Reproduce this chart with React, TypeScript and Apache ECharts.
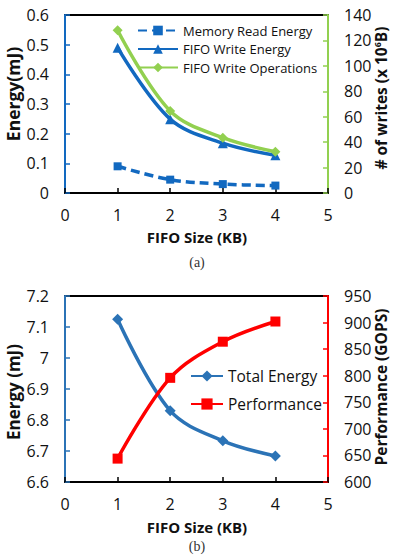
import React, { useEffect, useRef } from "react";
import * as echarts from "echarts";

const fifoSizes = [1, 2, 3, 4];
const memReadEnergy = [0.09, 0.045, 0.03, 0.025];
const fifoWriteEnergy = [0.49, 0.249, 0.168, 0.127];
const fifoWriteOps = [128, 64.5, 43.5, 32.5];
const totalEnergy = [7.125, 6.83, 6.733, 6.684];
const performance = [644, 796, 864, 902];

const BLUE_A = "#1269C0";
const GREEN = "#92D050";
const BLUE_B = "#2B73B6";
const RED = "#FF0000";
const FONT = "Open Sans";

const pairs = (ys: number[]) => fifoSizes.map((x, i) => [x, ys[i]]);

export default function App() {
  const ref = useRef<HTMLDivElement>(null);
  useEffect(() => {
    document.body.style.margin = "0";
    const chart = echarts.init(ref.current!, null, { renderer: "svg" });
    const label = { color: "#111", fontFamily: FONT, fontSize: 16 };
    const xAxisBase = (gridIndex: number) => ({
      type: "value" as const,
      gridIndex,
      min: 0,
      max: 5,
      interval: 1,
      axisLine: { lineStyle: { color: "#000", width: 2 } },
      axisTick: { inside: true, length: 5, lineStyle: { color: "#000", width: 1.5 } },
      axisLabel: { ...label, margin: 14 },
      splitLine: { show: false },
    });
    const yAxisBase = (gridIndex: number, pos: "left" | "right", color: string, min: number, max: number, interval: number) => ({
      type: "value" as const,
      gridIndex,
      position: pos,
      min,
      max,
      interval,
      axisLine: { show: true, onZero: false, lineStyle: { color, width: 2 } },
      axisTick: { show: true, inside: true, length: 5, lineStyle: { color, width: 1.5 } },
      axisLabel: { ...label, margin: 16 },
      splitLine: { show: false },
    });
    const lineSeries = (name: string, xi: number, yi: number, data: number[], color: string, symbol: string, symbolSize: number, dashed = false) => ({
      name,
      type: "line" as const,
      xAxisIndex: xi,
      yAxisIndex: yi,
      data: pairs(data),
      smooth: 0.35,
      symbol,
      symbolSize,
      showSymbol: true,
      lineStyle: { color, width: 3.5, type: dashed ? [9, 5] : "solid" },
      itemStyle: { color },
      z: 3,
    });
    const axisTitle = (text: string, x: number, y: number, rot: number, size: number, rich?: any) => ({
      type: "text",
      x,
      y,
      rotation: rot,
      style: {
        text,
        fill: "#111",
        fontFamily: FONT,
        fontWeight: "bold",
        fontSize: size,
        align: "center",
        verticalAlign: "middle",
        rich,
      },
    });
    chart.setOption({
      animation: false,
      grid: [
        { left: 65, top: 15, width: 263, height: 178, show: true, borderColor: "#000", borderWidth: 2 },
        { left: 65, top: 296, width: 263, height: 186, show: true, borderColor: "#000", borderWidth: 2 },
      ],
      xAxis: [xAxisBase(0), xAxisBase(1)],
      yAxis: [
        yAxisBase(0, "left", BLUE_A, 0, 0.6, 0.1),
        yAxisBase(0, "right", GREEN, 0, 140, 20),
        yAxisBase(1, "left", BLUE_B, 6.6, 7.2, 0.1),
        yAxisBase(1, "right", RED, 600, 950, 50),
      ],
      legend: [
        {
          data: ["Memory Read Energy", "FIFO Write Energy", "FIFO Write Operations"],
          orient: "vertical",
          left: 132,
          top: 19,
          itemWidth: 40,
          itemHeight: 12,
          itemGap: 5.5,
          textStyle: { fontFamily: FONT, fontSize: 13, color: "#111", lineHeight: 12 },
        },
        {
          data: ["Total Energy", "Performance"],
          orient: "vertical",
          left: 185,
          top: 363,
          itemWidth: 32,
          itemHeight: 14,
          itemGap: 12,
          textStyle: { fontFamily: FONT, fontSize: 15.5, color: "#111", lineHeight: 14 },
        },
      ],
      series: [
        lineSeries("Memory Read Energy", 0, 0, memReadEnergy, BLUE_A, "rect", 8, true),
        lineSeries("FIFO Write Energy", 0, 0, fifoWriteEnergy, BLUE_A, "triangle", 10),
        lineSeries("FIFO Write Operations", 0, 1, fifoWriteOps, GREEN, "diamond", 10),
        lineSeries("Total Energy", 1, 2, totalEnergy, BLUE_B, "diamond", 11),
        lineSeries("Performance", 1, 3, performance, RED, "rect", 10),
      ],
      graphic: [
        axisTitle("Energy(mJ)", 13, 94, Math.PI / 2, 17.5),
        axisTitle("{a|# of writes (x 10}{s|6}{a|B)}", 381, 98, Math.PI / 2, 15.5, {
          a: { fontFamily: FONT, fontWeight: "bold", fontSize: 15.5, color: "#111" },
          s: { fontFamily: FONT, fontWeight: "bold", fontSize: 9, color: "#111", verticalAlign: "top", padding: [0, 0, 8, 0] },
        }),
        axisTitle("FIFO Size (KB)", 197, 237, 0, 15),
        axisTitle("Energy (mJ)", 13, 392, Math.PI / 2, 17),
        axisTitle("Performance (GOPS)", 381, 387, Math.PI / 2, 15.5),
        axisTitle("FIFO Size (KB)", 197, 527, 0, 15),
        {
          type: "text",
          x: 197,
          y: 262,
          style: { text: "(a)", fontFamily: "Liberation Serif", fontSize: 14, fill: "#333", align: "center", verticalAlign: "middle" },
        },
        {
          type: "text",
          x: 197,
          y: 546,
          style: { text: "(b)", fontFamily: "Liberation Serif", fontSize: 14, fill: "#333", align: "center", verticalAlign: "middle" },
        },
      ],
    });
    return () => chart.dispose();
  }, []);
  return <div ref={ref} style={{ position: "absolute", left: 0, top: 0, width: 395, height: 557, background: "#fff" }} />;
}
